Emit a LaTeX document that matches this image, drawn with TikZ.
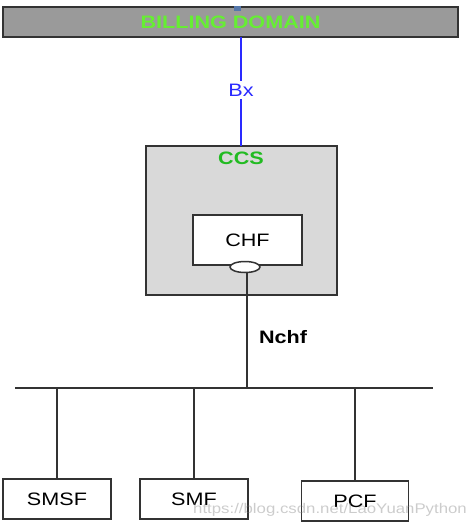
\documentclass[tikz,border=0pt]{standalone}
\usepackage{fontspec}
\setmainfont[FakeStretch=1.2]{Liberation Sans}
\usetikzlibrary{shapes.geometric}
\definecolor{barfill}{HTML}{9A9A9A}
\definecolor{bargreen}{HTML}{66EE33}
\definecolor{ccsgreen}{HTML}{22BB22}
\definecolor{ccsfill}{HTML}{D9D9D9}
\definecolor{bxblue}{HTML}{2A2AFF}
\definecolor{edge}{HTML}{333333}
\definecolor{portblue}{HTML}{5577AA}
\tikzset{
  lbl/.style={font=\fontsize{18}{20}\selectfont, inner sep=1pt},
  nfbox/.style={draw=edge, line width=1.7pt, fill=white, minimum height=40pt, inner sep=0pt, font=\fontsize{18}{20}\selectfont},
  wire/.style={draw=edge, line width=1.6pt},
}
\begin{document}
\begin{tikzpicture}[x=1pt,y=-1pt]
\useasboundingbox (0,0) rectangle (468,527);
% billing domain
\node[draw=edge, line width=1.7pt, fill=barfill, minimum width=455pt, minimum height=30pt, inner sep=0pt,
      font=\fontsize{18}{20}\selectfont\bfseries, text=bargreen] (billing) at (230.5,22) {BILLING DOMAIN};
\node[fill=portblue, minimum width=7pt, minimum height=5pt, inner sep=0pt] (mark) at (237,8.5) {};
% CCS
\node[draw=edge, line width=1.9pt, fill=ccsfill, minimum width=191pt, minimum height=149pt, inner sep=0pt] (ccs) at (241.5,220.5) {};
\node[lbl, font=\fontsize{18}{20}\selectfont\bfseries, text=ccsgreen] (ccslbl) at (241,158) {CCS};
\node[draw=edge, line width=1.7pt, fill=white, minimum width=109pt, minimum height=50pt, inner sep=0pt,
      font=\fontsize{18}{20}\selectfont] (chf) at (247.5,240) {CHF};
\node[ellipse, draw=edge, line width=1.5pt, fill=white, minimum width=30pt, minimum height=11pt, inner sep=0pt] (port) at (245,267) {};
% Bx
\coordinate (bxtop) at (241,37);
\coordinate (bxbot) at (241,146);
\draw[bxblue, line width=2.2pt] (bxtop) -- (bxbot);
\node[lbl, fill=white, text=bxblue, inner sep=3pt] (bx) at (241,90) {Bx};
% Nchf
\coordinate (busL) at (15,388);
\coordinate (busR) at (433,388);
\coordinate (busN) at (247,388);
\draw[wire] (busL) -- (busR);
\draw[wire] (port.south -| busN) -- (busN);
\node[lbl, font=\fontsize{18}{20}\selectfont\bfseries, text=black] (nchf) at (283,337) {Nchf};
% network functions
\node[nfbox, minimum width=108pt] (smsf) at (57,499) {SMSF};
\node[nfbox, minimum width=108pt] (smf) at (194,499) {SMF};
\node[nfbox, minimum width=107pt] (pcf) at (355,501) {PCF};
\draw[wire] (busL -| smsf.north) -- (smsf.north);
\draw[wire] (busL -| smf.north) -- (smf.north);
\draw[wire] (busL -| pcf.north) -- (pcf.north);
% watermark
\node[text=gray, opacity=0.4, font=\fontsize{14}{16}\selectfont, inner sep=0pt] (wm) at (330,510) {https://blog.csdn.net/LaoYuanPython};
\end{tikzpicture}
\end{document}
